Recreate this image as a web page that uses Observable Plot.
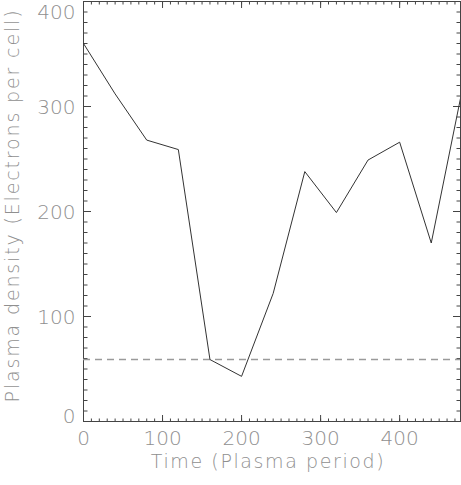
<!DOCTYPE html>
<html>
<head>
<meta charset="utf-8">
<script src="https://cdn.jsdelivr.net/npm/d3@7"></script>
<script src="https://cdn.jsdelivr.net/npm/@observablehq/plot@0.6"></script>
<style>
  html, body { margin: 0; padding: 0; background: #fff; }
  svg { overflow: visible; }
</style>
</head>
<body>
<div id="chart"></div>
<script>
const times = [0, 40, 80, 120, 160, 200, 240, 280, 320, 360, 400, 440, 480];
const density = [360, 312, 268, 259, 59, 43, 122, 238, 199, 249, 266, 170, 319];
const thresholdValue = [59];
const xTickValues = [0, 100, 200, 300, 400];
const yTickValues = [0, 100, 200, 300, 400];
const xTitle = "Time (Plasma period)";
const yTitle = "Plasma density (Electrons per cell)";

const data = times.map((t, i) => ({t, v: density[i]}));
const xMinor = d3.range(0, 477, 10);
const yMinor = d3.range(0, 401, 10);

const font = "'DejaVu Sans ExtraLight', 'DejaVu Sans'";
const txt = {fill: "#8f8f8f", fontSize: 20, fontFamily: font, fontWeight: 200, stroke: null};
const tickColor = "#444";
const W = 377, H = 420; // frame size in pixels (for inward tick offsets)
const noText = {tickFormat: () => "", label: null, stroke: tickColor};

const chart = Plot.plot({
  width: 461,
  height: 485,
  marginLeft: 83,
  marginRight: 1,
  marginTop: 1,
  marginBottom: 64,
  style: {background: "#fff", overflow: "visible"},
  x: {domain: [0, 477]},
  y: {domain: [0, 400]},
  marks: [
    // minor ticks, inward on all four sides
    Plot.axisX(xMinor, {anchor: "top", dy: H, tickSize: 3.5, ...noText}),
    Plot.axisX(xMinor, {anchor: "bottom", dy: -H, tickSize: 3.5, ...noText}),
    Plot.axisY(yMinor, {anchor: "right", dx: -W, tickSize: 3.5, ...noText}),
    Plot.axisY(yMinor, {anchor: "left", dx: W, tickSize: 3.5, ...noText}),
    // major ticks
    Plot.axisX(xTickValues, {anchor: "top", dy: H, tickSize: 7, ...noText}),
    Plot.axisX(xTickValues, {anchor: "bottom", dy: -H, tickSize: 7, ...noText}),
    Plot.axisY(yTickValues, {anchor: "right", dx: -W, tickSize: 7, ...noText}),
    Plot.axisY(yTickValues, {anchor: "left", dx: W, tickSize: 7, ...noText}),
    Plot.frame({stroke: "#444", strokeWidth: 1}),
    // dashed threshold
    Plot.ruleY(thresholdValue, {stroke: "#9a9a9a", strokeWidth: 1.4, strokeDasharray: "7,5"}),
    // data line
    Plot.line(data, {x: "t", y: "v", stroke: "#333", strokeWidth: 1, clip: true}),
    // x tick labels
    Plot.text(xTickValues, {x: d => d, frameAnchor: "bottom", dy: 23, text: d => String(d), ...txt}),
    // y tick labels
    Plot.text(yTickValues.filter(d => d === 0), {y: d => d, frameAnchor: "left", dx: -8, dy: -5, textAnchor: "end", text: d => String(d), ...txt}),
    Plot.text(yTickValues.filter(d => d > 0 && d < 400), {y: d => d, frameAnchor: "left", dx: -8, dy: 1.5, textAnchor: "end", text: d => String(d), ...txt}),
    Plot.text(yTickValues.filter(d => d === 400), {y: d => d, frameAnchor: "left", dx: -8, dy: 11, textAnchor: "end", text: d => String(d), ...txt}),
    // axis titles
    Plot.text([xTitle], {frameAnchor: "bottom", dy: 46, dx: -4, text: d => d, ...txt, fontSize: 19}),
    Plot.text([yTitle], {frameAnchor: "left", dx: -71, dy: -6, rotate: -90, textAnchor: "middle", text: d => d, ...txt, fontSize: 19})
  ]
});
// widen the titles' letter spacing to match the reference's wide stroke font
d3.select(chart).selectAll("text").each(function() {
  const t = this.textContent;
  if (t === xTitle) this.setAttribute("letter-spacing", "1.6");
  if (t === yTitle) this.setAttribute("letter-spacing", "1.85");
});
document.getElementById("chart").appendChild(chart);
</script>
</body>
</html>
